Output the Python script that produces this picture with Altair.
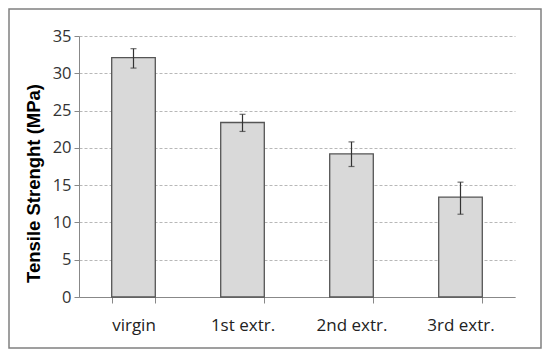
import altair as alt
import pandas as pd

categories = ["virgin", "1st extr.", "2nd extr.", "3rd extr."]
strength = [32.1, 23.4, 19.2, 13.4]
err_low = [30.7, 22.2, 17.5, 11.1]
err_high = [33.3, 24.5, 20.8, 15.4]
y_ticks = [0, 5, 10, 15, 20, 25, 30, 35]

df = pd.DataFrame({"cat": categories, "val": strength, "lo": err_low, "hi": err_high})

x_axis = alt.Axis(labelAngle=0, labelFontSize=17, labelColor="#222222",
                  labelFont="Open Sans", labelPadding=14, tickBand="extent",
                  tickSize=6, tickColor="#888888", domainColor="#888888",
                  tickWidth=1, domainWidth=1, grid=False)
x_scale = alt.Scale(paddingInner=0.6, paddingOuter=0.3)
y_axis = alt.Axis(values=y_ticks, labelFontSize=16.5,
                  labelColor="#333333", labelFont="Open Sans", labelPadding=3,
                  tickSize=5, tickColor="#888888", domainColor="#888888",
                  gridColor="#b8b8b8", gridDash=[3, 2], gridWidth=1,
                  titleFont="Liberation Sans", titleFontSize=18.5,
                  titleFontWeight="bold", titleColor="#000000", titlePadding=9,
                  titleY=147)
y_scale = alt.Scale(domain=[0, 35], nice=False)
y_title = "Tensile Strenght (MPa)"

def X():
    return alt.X("cat:N", sort=categories, title=None, scale=x_scale, axis=x_axis)

def Y(field):
    return alt.Y(field, title=y_title, scale=y_scale, axis=y_axis)

base = alt.Chart(df)

bars = base.mark_bar(fill="#d9d9d9", stroke="#555555", strokeWidth=1.3).encode(
    x=X(), y=Y("val:Q"))
rule = base.mark_rule(color="#333333", strokeWidth=1.2).encode(
    x=X(), y=Y("lo:Q"), y2="hi:Q")
cap_lo = base.mark_tick(color="#333333", size=6, thickness=1.2).encode(
    x=X(), y=Y("lo:Q"))
cap_hi = base.mark_tick(color="#333333", size=6, thickness=1.2).encode(
    x=X(), y=Y("hi:Q"))

border = alt.Chart(pd.DataFrame({"a": [0]})).mark_rect(
    fill=None, stroke="#808080", strokeWidth=1.5, clip=False).encode(
    x=alt.value(-70), x2=alt.value(462), y=alt.value(-27), y2=alt.value(312))

chart = alt.layer(bars, rule, cap_lo, cap_hi, border).properties(
    width=436, height=261,
    autosize=alt.AutoSizeParams(type="none"),
    padding={"left": 71, "top": 28, "right": 27, "bottom": 52},
    background="white",
).configure_view(stroke=None)

chart.save("out.html", embed_options={"renderer": "svg", "actions": False})
